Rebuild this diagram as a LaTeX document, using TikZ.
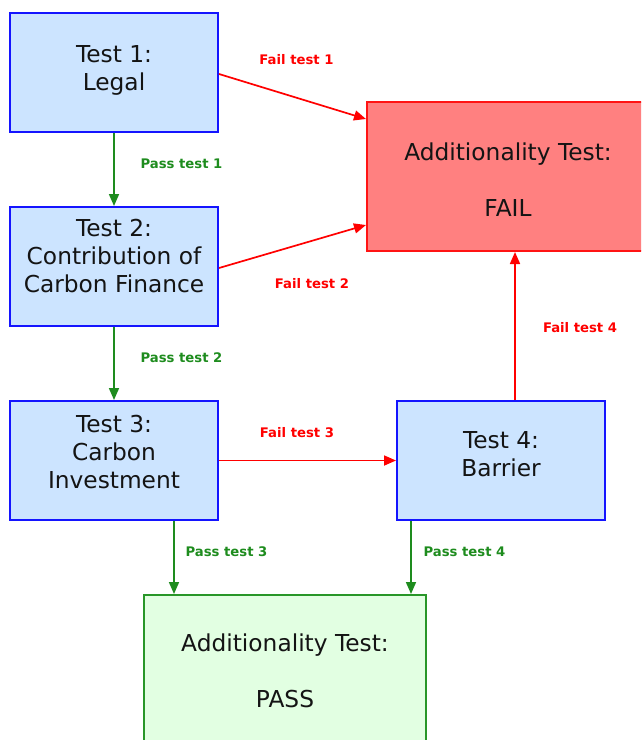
\documentclass[tikz,border=0pt]{standalone}
\usepackage{fontspec}
\setmainfont{DejaVu Sans}
\usetikzlibrary{arrows.meta}
\definecolor{boxfill}{RGB}{204,228,255}
\definecolor{boxblue}{RGB}{20,20,255}
\definecolor{failfill}{RGB}{255,128,128}
\definecolor{failred}{RGB}{255,20,20}
\definecolor{passfill}{RGB}{226,255,226}
\definecolor{passgreen}{RGB}{40,150,40}
\definecolor{arrgreen}{RGB}{30,140,30}
\definecolor{inktext}{RGB}{20,20,20}
\begin{document}
\begin{tikzpicture}[x=1pt,y=-1pt,
  testbox/.style={draw=boxblue, fill=boxfill, line width=2pt, minimum width=208pt, minimum height=119pt, inner sep=0pt},
  failbox/.style={draw=failred, fill=failfill, line width=2pt, minimum width=282pt, minimum height=149pt, inner sep=0pt},
  passbox/.style={draw=passgreen, fill=passfill, line width=2pt, minimum width=282pt, minimum height=149pt, inner sep=0pt},
  boxtext/.style={anchor=north, align=center, inner sep=0pt, text=inktext, font=\fontsize{23.3}{28}\selectfont},
  failarrow/.style={draw=red, line width=1.7pt, -{Triangle[length=12pt,width=10pt]}},
  passarrow/.style={draw=arrgreen, line width=1.7pt, -{Triangle[length=12pt,width=10pt]}},
  faillbl/.style={anchor=base, text=red, font=\bfseries\fontsize{13.2}{15}\selectfont, inner sep=0pt},
  passlbl/.style={anchor=base, text=arrgreen, font=\bfseries\fontsize{13.2}{15}\selectfont, inner sep=0pt}
]
\useasboundingbox (0,0) rectangle (641,740);
\clip (0,0) rectangle (641,740);

% boxes
\node[testbox] (t1) at (114,72.5) {};
\node[testbox] (t2) at (114,266.5) {};
\node[testbox] (t3) at (114,460.5) {};
\node[testbox] (t4) at (501,460.5) {};
\node[failbox] (fail) at (508,176.5) {};
\node[passbox] (pass) at (285,669.5) {};

% box texts (top = first baseline - 19.6)
\node[boxtext] (t1txt) at (114,42.4) {\strut Test 1:\\\strut Legal};
\node[boxtext] (t2txt) at (114,217.1) {\strut Test 2:\\\strut Contribution of\\\strut Carbon Finance};
\node[boxtext] (t3txt) at (114,412.5) {\strut Test 3:\\\strut Carbon\\\strut Investment};
\node[boxtext] (t4txt) at (501,428.5) {\strut Test 4:\\\strut Barrier};
\node[boxtext] (failtxt) at (508,141.1) {\strut Additionality Test:\\\strut\\\strut FAIL};
\node[boxtext] (passtxt) at (285,632.1) {\strut Additionality Test:\\\strut\\\strut PASS};

% connectors
\draw[failarrow] ([yshift=-1.5pt]t1.east) -- ([yshift=57.5pt]fail.west);
\draw[failarrow] ([yshift=-1.5pt]t2.east) -- ([yshift=-48.5pt]fail.west);
\draw[failarrow] (t3.east) -- (t4.west);
\draw[failarrow] ([xshift=14pt]t4.north) -- ([xshift=14pt]t4.north |- fail.south);
\draw[passarrow] (t1.south) -- (t2.north);
\draw[passarrow] (t2.south) -- (t3.north);
\draw[passarrow] ([xshift=60pt]t3.south) -- ([xshift=60pt]t3.south |- pass.north);
\draw[passarrow] ([xshift=-90pt]t4.south) -- ([xshift=-90pt]t4.south |- pass.north);

% labels
\node[faillbl] (l1) at (296.5,64) {Fail test 1};
\node[passlbl] (l2) at (181.5,168) {Pass test 1};
\node[faillbl] (l3) at (312,288) {Fail test 2};
\node[passlbl] (l4) at (181.5,362) {Pass test 2};
\node[faillbl] (l5) at (297,437) {Fail test 3};
\node[faillbl] (l6) at (580,332) {Fail test 4};
\node[passlbl] (l7) at (226.5,556) {Pass test 3};
\node[passlbl] (l8) at (464.5,556) {Pass test 4};
\end{tikzpicture}
\end{document}
